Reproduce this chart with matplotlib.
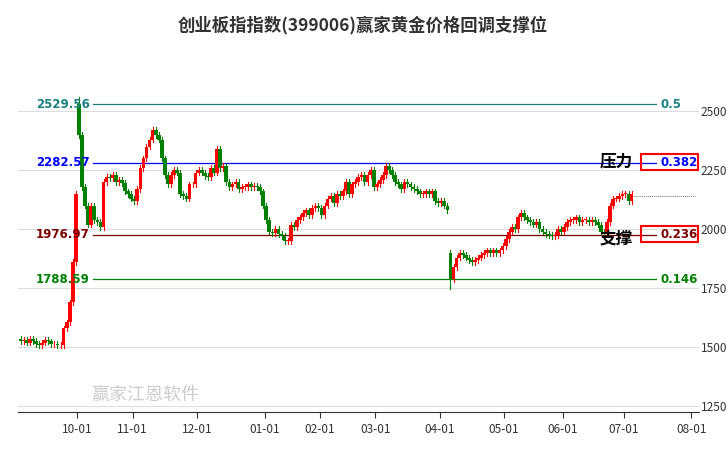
import matplotlib
matplotlib.use("Agg")
import matplotlib.pyplot as plt
import pandas as pd
import numpy as np

plt.rcParams['font.family'] = ['Noto Sans CJK SC', 'DejaVu Sans']

title = "创业板指指数(399006)赢家黄金价格回调支撑位"
dates_str = (
    "2024-09-02 2024-09-03 2024-09-04 2024-09-05 2024-09-06 2024-09-09 2024-09-10 2024-09-11 2024-09-12 2024-09-13 "
    "2024-09-18 2024-09-19 2024-09-20 2024-09-23 2024-09-24 2024-09-25 2024-09-26 2024-09-27 2024-09-30 "
    "2024-10-08 2024-10-09 2024-10-10 2024-10-11 2024-10-14 2024-10-15 2024-10-16 2024-10-17 2024-10-18 "
    "2024-10-21 2024-10-22 2024-10-23 2024-10-24 2024-10-25 2024-10-28 2024-10-29 2024-10-30 2024-10-31 2024-11-01 "
    "2024-11-04 2024-11-05 2024-11-06 2024-11-07 2024-11-08 2024-11-11 2024-11-12 2024-11-13 2024-11-14 2024-11-15 "
    "2024-11-18 2024-11-19 2024-11-20 2024-11-21 2024-11-22 2024-11-25 2024-11-26 2024-11-27 2024-11-28 2024-11-29 "
    "2024-12-02 2024-12-03 2024-12-04 2024-12-05 2024-12-06 2024-12-09 2024-12-10 2024-12-11 2024-12-12 2024-12-13 "
    "2024-12-16 2024-12-17 2024-12-18 2024-12-19 2024-12-20 2024-12-23 2024-12-24 2024-12-25 2024-12-26 2024-12-27 "
    "2024-12-30 2024-12-31 2025-01-02 2025-01-03 2025-01-06 2025-01-07 2025-01-08 2025-01-09 2025-01-10 "
    "2025-01-13 2025-01-14 2025-01-15 2025-01-16 2025-01-17 2025-01-20 2025-01-21 2025-01-22 2025-01-23 2025-01-24 2025-01-27 "
    "2025-02-05 2025-02-06 2025-02-07 2025-02-10 2025-02-11 2025-02-12 2025-02-13 2025-02-14 "
    "2025-02-17 2025-02-18 2025-02-19 2025-02-20 2025-02-21 2025-02-24 2025-02-25 2025-02-26 2025-02-27 2025-02-28 "
    "2025-03-03 2025-03-04 2025-03-05 2025-03-06 2025-03-07 2025-03-10 2025-03-11 2025-03-12 2025-03-13 2025-03-14 "
    "2025-03-17 2025-03-18 2025-03-19 2025-03-20 2025-03-21 2025-03-24 2025-03-25 2025-03-26 2025-03-27 2025-03-28 "
    "2025-03-31 2025-04-01 2025-04-02 2025-04-03 2025-04-07 2025-04-08 2025-04-09 2025-04-10 2025-04-11 "
    "2025-04-14 2025-04-15 2025-04-16 2025-04-17 2025-04-18 2025-04-21 2025-04-22 2025-04-23 2025-04-24 2025-04-25 "
    "2025-04-28 2025-04-29 2025-04-30 2025-05-06 2025-05-07 2025-05-08 2025-05-09 2025-05-12 2025-05-13 2025-05-14 "
    "2025-05-15 2025-05-16 2025-05-19 2025-05-20 2025-05-21 2025-05-22 2025-05-23 2025-05-26 2025-05-27 2025-05-28 "
    "2025-05-29 2025-05-30 2025-06-03 2025-06-04 2025-06-05 2025-06-06 2025-06-09 2025-06-10 2025-06-11 2025-06-12 "
    "2025-06-13 2025-06-16 2025-06-17 2025-06-18 2025-06-19 2025-06-20 2025-06-23 2025-06-24 2025-06-25 2025-06-26 "
    "2025-06-27 2025-06-30 2025-07-01 2025-07-02 2025-07-03"
).split()
closes = [1525, 1530, 1520, 1535, 1528, 1515, 1510, 1520, 1530, 1525,
          1512, 1515, 1508, 1510, 1580, 1605, 1690, 1860, 2150,
          2400, 2180, 2100, 2020, 2100, 2040, 2030, 2010, 2200,
          2220, 2215, 2230, 2200, 2210, 2195, 2160, 2150, 2130, 2120,
          2170, 2260, 2300, 2350, 2380, 2420, 2400, 2380, 2300, 2230,
          2190, 2230, 2250, 2240, 2150, 2140, 2130, 2190, 2190, 2240,
          2250, 2240, 2225, 2220, 2260, 2240, 2340, 2260, 2270, 2200,
          2180, 2190, 2200, 2170, 2180, 2180, 2190, 2180, 2185, 2180,
          2160, 2100, 2040, 1990, 1985, 2000, 1980, 1970, 1950,
          1950, 2020, 2010, 2040, 2050, 2070, 2080, 2060, 2090, 2100, 2090,
          2060, 2100, 2130, 2140, 2110, 2150, 2140, 2160,
          2200, 2150, 2190, 2200, 2220, 2230, 2200, 2230, 2250, 2180,
          2190, 2210, 2230, 2270, 2250, 2230, 2200, 2190, 2170, 2200,
          2190, 2180, 2170, 2160, 2150, 2150, 2160, 2150, 2160, 2120,
          2110, 2120, 2100, 2080, 1790, 1840, 1880, 1900, 1890,
          1880, 1870, 1860, 1870, 1880, 1890, 1900, 1910, 1900, 1910,
          1900, 1910, 1930, 1960, 1990, 2010, 2000, 2050, 2070, 2050,
          2040, 2030, 2020, 2030, 2000, 1990, 1980, 1975, 1970, 1975,
          2000, 1990, 2010, 2030, 2040, 2040, 2050, 2030, 2040, 2040,
          2030, 2040, 2030, 2020, 1990, 1980, 2030, 2100, 2130, 2130,
          2140, 2150, 2150, 2120, 2150]
first_open = 1535
oct8_open = 2529.56

levels = [2529.56, 2282.57, 1976.97, 1788.59]
level_ratios = ["0.5", "0.382", "0.236", "0.146"]
level_colors = ["#1a8080", "#0000ff", "#7a0000", "#008000"]
yticks = [1250, 1500, 1750, 2000, 2250, 2500]
xtick_labels = ["10-01", "11-01", "12-01", "01-01", "02-01", "03-01", "04-01", "05-01", "06-01", "07-01", "08-01"]
xtick_dates = ["2024-10-01", "2024-11-01", "2024-12-01", "2025-01-01", "2025-02-01", "2025-03-01",
               "2025-04-01", "2025-05-01", "2025-06-01", "2025-07-01"]

dts = pd.to_datetime(dates_str)
n = len(dts)
idx = np.arange(n)
closes = np.array(closes, float)
opens = np.concatenate([[first_open], closes[:-1]])
i_oct8 = dates_str.index("2024-10-08")
i_apr7 = dates_str.index("2025-04-07")
opens[i_oct8] = oct8_open
opens[i_apr7] = 1900
highs = np.maximum(opens, closes) + 12
lows = np.minimum(opens, closes) - 12
highs[i_oct8] = 2560
lows[i_apr7] = 1745

tick_pos = [int(np.searchsorted(dts.values, np.datetime64(d))) - 0.5 for d in xtick_dates]
tick_pos.append(tick_pos[-1] + 22)  # 08-01, beyond data

fig = plt.figure(figsize=(7.26, 4.5), dpi=100)
ax = fig.add_axes([0.025, 0.084, 0.938, 0.80])
ax.set_ylim(1225, 2750)
ax.set_xlim(-0.8, 221)

for y in yticks:
    ax.axhline(y, color="#dddddd", lw=0.8, zorder=0)

for d, o, c, h, l in zip(idx, opens, closes, highs, lows):
    col = "#ff0000" if c >= o else "#008000"
    ax.plot([d, d], [l, h], color=col, lw=0.8, zorder=2)
    ax.bar(d, max(abs(c - o), 3), bottom=min(o, c), width=1.2, color=col, zorder=3)

x0, x1 = 23.5, 207
for lv, r, col in zip(levels, level_ratios, level_colors):
    ax.plot([x0, x1], [lv, lv], color=col, lw=0.9, zorder=1)
    ax.text(x0 - 1, lv, f"{lv:.2f}", color=col, fontsize=8.5, fontweight="bold",
            ha="right", va="center", family="DejaVu Sans")
    ax.text(x1 + 1.5, lv, r, color=col, fontsize=8.5, fontweight="bold", ha="left", va="center",
            family="DejaVu Sans")

for lv in (levels[1], levels[2]):
    ax.add_patch(plt.Rectangle((202, lv - 30), 18.5, 65, fill=False, ec="#ff0000", lw=1.5, zorder=5))
ax.text(188.5, levels[1] + 5, "压力", fontsize=12, fontweight="bold", va="center")
ax.text(188.5, levels[2] - 15, "支撑", fontsize=12, fontweight="bold", va="center")
ax.plot([n - 1, 220], [2140, 2140], color="#5a8a5a", lw=0.7, ls=(0, (1, 1)))

ax.text(23, 1262, "赢家江恩软件", fontsize=13, color="#cccccc", va="bottom")

ax.set_yticks(yticks)
ax.yaxis.tick_right()
ax.tick_params(axis="y", length=0, labelsize=8.5, colors="#333333", pad=1)
ax.set_xticks(tick_pos)
ax.set_xticklabels(xtick_labels, fontsize=8.5)
ax.tick_params(axis="x", length=4, colors="#333333")
for s in ["top", "right", "left"]:
    ax.spines[s].set_visible(False)
ax.spines["bottom"].set_color("#333333")

fig.suptitle(title, y=0.965, fontsize=12.5, color="#333333", fontweight="bold")
fig.savefig("out.png", dpi=100)
